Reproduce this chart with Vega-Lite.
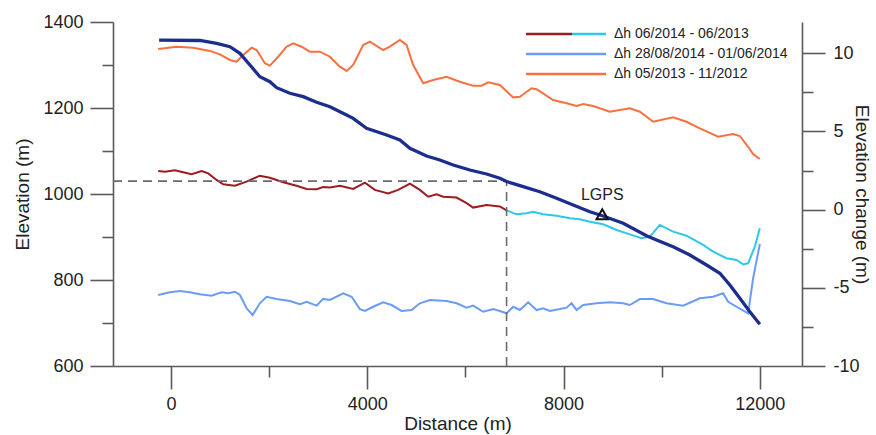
{
  "$schema": "https://vega.github.io/schema/vega-lite/v6.json",
  "width": 689,
  "height": 344,
  "autosize": {"type": "none"},
  "padding": {"left": 113, "top": 22, "right": 74, "bottom": 69},
  "background": "white",
  "datasets": {
    "dh": [
      {"s": "Δh 06/2014 - 06/2013", "d": -259, "v": 2.47},
      {"s": "Δh 06/2014 - 06/2013", "d": -122, "v": 2.43},
      {"s": "Δh 06/2014 - 06/2013", "d": 81, "v": 2.52},
      {"s": "Δh 06/2014 - 06/2013", "d": 251, "v": 2.39},
      {"s": "Δh 06/2014 - 06/2013", "d": 422, "v": 2.27},
      {"s": "Δh 06/2014 - 06/2013", "d": 626, "v": 2.47},
      {"s": "Δh 06/2014 - 06/2013", "d": 760, "v": 2.32},
      {"s": "Δh 06/2014 - 06/2013", "d": 931, "v": 1.9},
      {"s": "Δh 06/2014 - 06/2013", "d": 1066, "v": 1.62},
      {"s": "Δh 06/2014 - 06/2013", "d": 1304, "v": 1.53},
      {"s": "Δh 06/2014 - 06/2013", "d": 1542, "v": 1.79},
      {"s": "Δh 06/2014 - 06/2013", "d": 1813, "v": 2.17},
      {"s": "Δh 06/2014 - 06/2013", "d": 2017, "v": 2.04},
      {"s": "Δh 06/2014 - 06/2013", "d": 2288, "v": 1.75},
      {"s": "Δh 06/2014 - 06/2013", "d": 2561, "v": 1.53},
      {"s": "Δh 06/2014 - 06/2013", "d": 2765, "v": 1.32},
      {"s": "Δh 06/2014 - 06/2013", "d": 2969, "v": 1.3},
      {"s": "Δh 06/2014 - 06/2013", "d": 3103, "v": 1.45},
      {"s": "Δh 06/2014 - 06/2013", "d": 3240, "v": 1.42},
      {"s": "Δh 06/2014 - 06/2013", "d": 3443, "v": 1.53},
      {"s": "Δh 06/2014 - 06/2013", "d": 3714, "v": 1.32},
      {"s": "Δh 06/2014 - 06/2013", "d": 3953, "v": 1.72},
      {"s": "Δh 06/2014 - 06/2013", "d": 4156, "v": 1.26},
      {"s": "Δh 06/2014 - 06/2013", "d": 4427, "v": 1.04},
      {"s": "Δh 06/2014 - 06/2013", "d": 4631, "v": 1.26},
      {"s": "Δh 06/2014 - 06/2013", "d": 4870, "v": 1.66},
      {"s": "Δh 06/2014 - 06/2013", "d": 5073, "v": 1.26},
      {"s": "Δh 06/2014 - 06/2013", "d": 5243, "v": 0.83},
      {"s": "Δh 06/2014 - 06/2013", "d": 5414, "v": 0.98},
      {"s": "Δh 06/2014 - 06/2013", "d": 5548, "v": 0.83},
      {"s": "Δh 06/2014 - 06/2013", "d": 5821, "v": 0.77},
      {"s": "Δh 06/2014 - 06/2013", "d": 6025, "v": 0.41},
      {"s": "Δh 06/2014 - 06/2013", "d": 6159, "v": 0.13},
      {"s": "Δh 06/2014 - 06/2013", "d": 6432, "v": 0.3},
      {"s": "Δh 06/2014 - 06/2013", "d": 6703, "v": 0.2},
      {"s": "Δh 06/2014 - 06/2013", "d": 6840, "v": -0.05},
      {"s": "Δh 28/08/2014 - 01/06/2014", "d": -259, "v": -5.46},
      {"s": "Δh 28/08/2014 - 01/06/2014", "d": -20, "v": -5.29},
      {"s": "Δh 28/08/2014 - 01/06/2014", "d": 183, "v": -5.2},
      {"s": "Δh 28/08/2014 - 01/06/2014", "d": 387, "v": -5.29},
      {"s": "Δh 28/08/2014 - 01/06/2014", "d": 591, "v": -5.41},
      {"s": "Δh 28/08/2014 - 01/06/2014", "d": 829, "v": -5.5},
      {"s": "Δh 28/08/2014 - 01/06/2014", "d": 1033, "v": -5.29},
      {"s": "Δh 28/08/2014 - 01/06/2014", "d": 1167, "v": -5.35},
      {"s": "Δh 28/08/2014 - 01/06/2014", "d": 1304, "v": -5.25},
      {"s": "Δh 28/08/2014 - 01/06/2014", "d": 1406, "v": -5.46},
      {"s": "Δh 28/08/2014 - 01/06/2014", "d": 1542, "v": -6.31},
      {"s": "Δh 28/08/2014 - 01/06/2014", "d": 1665, "v": -6.74},
      {"s": "Δh 28/08/2014 - 01/06/2014", "d": 1813, "v": -5.99},
      {"s": "Δh 28/08/2014 - 01/06/2014", "d": 1950, "v": -5.57},
      {"s": "Δh 28/08/2014 - 01/06/2014", "d": 2154, "v": -5.71},
      {"s": "Δh 28/08/2014 - 01/06/2014", "d": 2425, "v": -5.84},
      {"s": "Δh 28/08/2014 - 01/06/2014", "d": 2628, "v": -6.05},
      {"s": "Δh 28/08/2014 - 01/06/2014", "d": 2765, "v": -5.89},
      {"s": "Δh 28/08/2014 - 01/06/2014", "d": 2969, "v": -6.14},
      {"s": "Δh 28/08/2014 - 01/06/2014", "d": 3103, "v": -5.71},
      {"s": "Δh 28/08/2014 - 01/06/2014", "d": 3240, "v": -5.78},
      {"s": "Δh 28/08/2014 - 01/06/2014", "d": 3511, "v": -5.35},
      {"s": "Δh 28/08/2014 - 01/06/2014", "d": 3682, "v": -5.57},
      {"s": "Δh 28/08/2014 - 01/06/2014", "d": 3851, "v": -6.36},
      {"s": "Δh 28/08/2014 - 01/06/2014", "d": 3953, "v": -6.48},
      {"s": "Δh 28/08/2014 - 01/06/2014", "d": 4122, "v": -6.21},
      {"s": "Δh 28/08/2014 - 01/06/2014", "d": 4326, "v": -5.93},
      {"s": "Δh 28/08/2014 - 01/06/2014", "d": 4497, "v": -6.1},
      {"s": "Δh 28/08/2014 - 01/06/2014", "d": 4700, "v": -6.48},
      {"s": "Δh 28/08/2014 - 01/06/2014", "d": 4904, "v": -6.42},
      {"s": "Δh 28/08/2014 - 01/06/2014", "d": 5073, "v": -5.99},
      {"s": "Δh 28/08/2014 - 01/06/2014", "d": 5277, "v": -5.78},
      {"s": "Δh 28/08/2014 - 01/06/2014", "d": 5617, "v": -5.84},
      {"s": "Δh 28/08/2014 - 01/06/2014", "d": 5821, "v": -5.99},
      {"s": "Δh 28/08/2014 - 01/06/2014", "d": 6025, "v": -6.27},
      {"s": "Δh 28/08/2014 - 01/06/2014", "d": 6159, "v": -6.14},
      {"s": "Δh 28/08/2014 - 01/06/2014", "d": 6363, "v": -6.53},
      {"s": "Δh 28/08/2014 - 01/06/2014", "d": 6567, "v": -6.36},
      {"s": "Δh 28/08/2014 - 01/06/2014", "d": 6703, "v": -6.48},
      {"s": "Δh 28/08/2014 - 01/06/2014", "d": 6840, "v": -6.63},
      {"s": "Δh 28/08/2014 - 01/06/2014", "d": 6974, "v": -6.21},
      {"s": "Δh 28/08/2014 - 01/06/2014", "d": 7111, "v": -6.42},
      {"s": "Δh 28/08/2014 - 01/06/2014", "d": 7280, "v": -5.93},
      {"s": "Δh 28/08/2014 - 01/06/2014", "d": 7451, "v": -6.42},
      {"s": "Δh 28/08/2014 - 01/06/2014", "d": 7586, "v": -6.31},
      {"s": "Δh 28/08/2014 - 01/06/2014", "d": 7722, "v": -6.48},
      {"s": "Δh 28/08/2014 - 01/06/2014", "d": 7926, "v": -6.36},
      {"s": "Δh 28/08/2014 - 01/06/2014", "d": 8062, "v": -6.27},
      {"s": "Δh 28/08/2014 - 01/06/2014", "d": 8164, "v": -5.99},
      {"s": "Δh 28/08/2014 - 01/06/2014", "d": 8266, "v": -6.42},
      {"s": "Δh 28/08/2014 - 01/06/2014", "d": 8401, "v": -6.1},
      {"s": "Δh 28/08/2014 - 01/06/2014", "d": 8673, "v": -5.99},
      {"s": "Δh 28/08/2014 - 01/06/2014", "d": 8944, "v": -5.93},
      {"s": "Δh 28/08/2014 - 01/06/2014", "d": 9216, "v": -5.99},
      {"s": "Δh 28/08/2014 - 01/06/2014", "d": 9352, "v": -6.1},
      {"s": "Δh 28/08/2014 - 01/06/2014", "d": 9556, "v": -5.72},
      {"s": "Δh 28/08/2014 - 01/06/2014", "d": 9827, "v": -5.72},
      {"s": "Δh 28/08/2014 - 01/06/2014", "d": 10100, "v": -5.99},
      {"s": "Δh 28/08/2014 - 01/06/2014", "d": 10438, "v": -6.14},
      {"s": "Δh 28/08/2014 - 01/06/2014", "d": 10778, "v": -5.67},
      {"s": "Δh 28/08/2014 - 01/06/2014", "d": 11049, "v": -5.57},
      {"s": "Δh 28/08/2014 - 01/06/2014", "d": 11253, "v": -5.35},
      {"s": "Δh 28/08/2014 - 01/06/2014", "d": 11355, "v": -5.89},
      {"s": "Δh 28/08/2014 - 01/06/2014", "d": 11526, "v": -6.21},
      {"s": "Δh 28/08/2014 - 01/06/2014", "d": 11762, "v": -6.63},
      {"s": "Δh 28/08/2014 - 01/06/2014", "d": 11864, "v": -4.39},
      {"s": "Δh 28/08/2014 - 01/06/2014", "d": 12001, "v": -2.2},
      {"s": "Δh 05/2013 - 11/2012", "d": -259, "v": 10.27},
      {"s": "Δh 05/2013 - 11/2012", "d": 116, "v": 10.42},
      {"s": "Δh 05/2013 - 11/2012", "d": 454, "v": 10.36},
      {"s": "Δh 05/2013 - 11/2012", "d": 795, "v": 10.15},
      {"s": "Δh 05/2013 - 11/2012", "d": 998, "v": 9.93},
      {"s": "Δh 05/2013 - 11/2012", "d": 1202, "v": 9.57},
      {"s": "Δh 05/2013 - 11/2012", "d": 1339, "v": 9.46},
      {"s": "Δh 05/2013 - 11/2012", "d": 1473, "v": 9.89},
      {"s": "Δh 05/2013 - 11/2012", "d": 1644, "v": 10.36},
      {"s": "Δh 05/2013 - 11/2012", "d": 1746, "v": 10.21},
      {"s": "Δh 05/2013 - 11/2012", "d": 1915, "v": 9.36},
      {"s": "Δh 05/2013 - 11/2012", "d": 2017, "v": 9.21},
      {"s": "Δh 05/2013 - 11/2012", "d": 2186, "v": 9.78},
      {"s": "Δh 05/2013 - 11/2012", "d": 2357, "v": 10.42},
      {"s": "Δh 05/2013 - 11/2012", "d": 2492, "v": 10.64},
      {"s": "Δh 05/2013 - 11/2012", "d": 2663, "v": 10.42},
      {"s": "Δh 05/2013 - 11/2012", "d": 2832, "v": 10.1},
      {"s": "Δh 05/2013 - 11/2012", "d": 3036, "v": 10.1},
      {"s": "Δh 05/2013 - 11/2012", "d": 3240, "v": 9.78},
      {"s": "Δh 05/2013 - 11/2012", "d": 3443, "v": 9.14},
      {"s": "Δh 05/2013 - 11/2012", "d": 3580, "v": 8.87},
      {"s": "Δh 05/2013 - 11/2012", "d": 3714, "v": 9.25},
      {"s": "Δh 05/2013 - 11/2012", "d": 3918, "v": 10.53},
      {"s": "Δh 05/2013 - 11/2012", "d": 4055, "v": 10.74},
      {"s": "Δh 05/2013 - 11/2012", "d": 4326, "v": 10.21},
      {"s": "Δh 05/2013 - 11/2012", "d": 4462, "v": 10.42},
      {"s": "Δh 05/2013 - 11/2012", "d": 4666, "v": 10.85},
      {"s": "Δh 05/2013 - 11/2012", "d": 4802, "v": 10.53},
      {"s": "Δh 05/2013 - 11/2012", "d": 4937, "v": 9.25},
      {"s": "Δh 05/2013 - 11/2012", "d": 5141, "v": 8.08},
      {"s": "Δh 05/2013 - 11/2012", "d": 5344, "v": 8.29},
      {"s": "Δh 05/2013 - 11/2012", "d": 5617, "v": 8.5},
      {"s": "Δh 05/2013 - 11/2012", "d": 5888, "v": 8.18},
      {"s": "Δh 05/2013 - 11/2012", "d": 6159, "v": 7.93},
      {"s": "Δh 05/2013 - 11/2012", "d": 6330, "v": 7.93},
      {"s": "Δh 05/2013 - 11/2012", "d": 6465, "v": 8.14},
      {"s": "Δh 05/2013 - 11/2012", "d": 6703, "v": 7.97},
      {"s": "Δh 05/2013 - 11/2012", "d": 6974, "v": 7.18},
      {"s": "Δh 05/2013 - 11/2012", "d": 7111, "v": 7.22},
      {"s": "Δh 05/2013 - 11/2012", "d": 7349, "v": 7.76},
      {"s": "Δh 05/2013 - 11/2012", "d": 7451, "v": 7.7},
      {"s": "Δh 05/2013 - 11/2012", "d": 7789, "v": 7.01},
      {"s": "Δh 05/2013 - 11/2012", "d": 8062, "v": 6.8},
      {"s": "Δh 05/2013 - 11/2012", "d": 8266, "v": 6.63},
      {"s": "Δh 05/2013 - 11/2012", "d": 8401, "v": 6.76},
      {"s": "Δh 05/2013 - 11/2012", "d": 8604, "v": 6.63},
      {"s": "Δh 05/2013 - 11/2012", "d": 8944, "v": 6.26},
      {"s": "Δh 05/2013 - 11/2012", "d": 9352, "v": 6.48},
      {"s": "Δh 05/2013 - 11/2012", "d": 9556, "v": 6.26},
      {"s": "Δh 05/2013 - 11/2012", "d": 9827, "v": 5.62},
      {"s": "Δh 05/2013 - 11/2012", "d": 10234, "v": 5.91},
      {"s": "Δh 05/2013 - 11/2012", "d": 10507, "v": 5.62},
      {"s": "Δh 05/2013 - 11/2012", "d": 10778, "v": 5.2},
      {"s": "Δh 05/2013 - 11/2012", "d": 11151, "v": 4.66},
      {"s": "Δh 05/2013 - 11/2012", "d": 11457, "v": 4.84},
      {"s": "Δh 05/2013 - 11/2012", "d": 11593, "v": 4.71},
      {"s": "Δh 05/2013 - 11/2012", "d": 11762, "v": 4.02},
      {"s": "Δh 05/2013 - 11/2012", "d": 11864, "v": 3.56},
      {"s": "Δh 05/2013 - 11/2012", "d": 12001, "v": 3.24}
    ],
    "dh_cyan": [
      {"d": 6840, "v": -0.05},
      {"d": 7044, "v": -0.3},
      {"d": 7247, "v": -0.23},
      {"d": 7382, "v": -0.13},
      {"d": 7586, "v": -0.3},
      {"d": 7859, "v": -0.39},
      {"d": 8130, "v": -0.55},
      {"d": 8333, "v": -0.62},
      {"d": 8537, "v": -0.77},
      {"d": 8808, "v": -0.94},
      {"d": 9081, "v": -1.3},
      {"d": 9352, "v": -1.58},
      {"d": 9590, "v": -1.83},
      {"d": 9760, "v": -1.73},
      {"d": 9963, "v": -0.98},
      {"d": 10234, "v": -1.41},
      {"d": 10507, "v": -1.67},
      {"d": 10845, "v": -2.26},
      {"d": 11049, "v": -2.69},
      {"d": 11322, "v": -3.11},
      {"d": 11526, "v": -3.22},
      {"d": 11660, "v": -3.5},
      {"d": 11762, "v": -3.43},
      {"d": 11899, "v": -2.37},
      {"d": 12001, "v": -1.19}
    ],
    "elev": [
      {"d": -240, "E": 1358},
      {"d": 591, "E": 1357},
      {"d": 931, "E": 1350.5},
      {"d": 1202, "E": 1342.6},
      {"d": 1406, "E": 1327.2},
      {"d": 1610, "E": 1300},
      {"d": 1813, "E": 1272.8},
      {"d": 2017, "E": 1261.2},
      {"d": 2154, "E": 1247.2},
      {"d": 2425, "E": 1234.2},
      {"d": 2696, "E": 1226.3},
      {"d": 2969, "E": 1213.3},
      {"d": 3240, "E": 1203},
      {"d": 3580, "E": 1183.7},
      {"d": 3714, "E": 1176},
      {"d": 3987, "E": 1152.8},
      {"d": 4395, "E": 1137.2},
      {"d": 4666, "E": 1125.6},
      {"d": 4870, "E": 1106.3},
      {"d": 5210, "E": 1088.4},
      {"d": 5481, "E": 1079.1},
      {"d": 5752, "E": 1067.4},
      {"d": 6092, "E": 1055.8},
      {"d": 6432, "E": 1046.5},
      {"d": 6703, "E": 1036.5},
      {"d": 6840, "E": 1029},
      {"d": 7178, "E": 1017},
      {"d": 7518, "E": 1005.3},
      {"d": 7859, "E": 990},
      {"d": 8197, "E": 974.4},
      {"d": 8537, "E": 958.8},
      {"d": 8808, "E": 948.8},
      {"d": 9216, "E": 931.9},
      {"d": 9692, "E": 903},
      {"d": 9896, "E": 893},
      {"d": 10234, "E": 877.4},
      {"d": 10575, "E": 858.1},
      {"d": 10915, "E": 834.9},
      {"d": 11186, "E": 815.6},
      {"d": 11390, "E": 788.4},
      {"d": 11594, "E": 757.4},
      {"d": 11797, "E": 726.3},
      {"d": 12001, "E": 697}
    ],
    "guides": [
      {"d": -1180, "d2": 6840, "E": 1030, "E2": 1030},
      {"d": 6840, "d2": 6840, "E": 600, "E2": 1030}
    ],
    "lgps": [
      {"d": 8790, "E": 953, "label": "LGPS"}
    ]
  },
  "layer": [
    {
      "layer": [
        {
          "data": {"name": "dh"},
          "mark": {"type": "line", "strokeWidth": 2},
          "encoding": {
            "x": {"field": "d", "type": "quantitative", "title": "Distance (m)",
                  "scale": {"domain": [-1180, 12860], "nice": false, "zero": false},
                  "axis": {"values": [0, 2000, 4000, 6000, 8000, 10000, 12000],
                           "labelExpr": "datum.value % 4000 === 0 ? '' + datum.value : ''",
                           "tickSize": {"condition": {"test": "datum.value % 4000 === 0", "value": 23}, "value": 11},
                           "labelPadding": 6, "titlePadding": 1}},
            "y": {"field": "v", "type": "quantitative", "title": "Elevation change (m)",
                  "scale": {"domain": [-10, 12], "nice": false, "zero": false},
                  "axis": {"orient": "right", "values": [-10, -7.5, -5, -2.5, 0, 2.5, 5, 7.5, 10],
                           "labelExpr": "datum.value % 5 === 0 ? '' + datum.value : ''",
                           "tickSize": {"condition": {"test": "datum.value % 5 === 0", "value": 23}, "value": 11},
                           "labelPadding": 8, "titlePadding": -8}},
            "color": {"field": "s", "type": "nominal",
                      "scale": {"domain": ["Δh 06/2014 - 06/2013", "Δh 28/08/2014 - 01/06/2014", "Δh 05/2013 - 11/2012"],
                                "range": ["#9e1b22", "#6a9cf7", "#f8703f"]},
                      "legend": {
                        "orient": "none", "legendX": 443, "legendY": 2, "title": null, "padding": 0,
                        "symbolType": "M-4,-0.13H4V0.13H-4Z", "symbolSize": 400,
                        "labelFontSize": 14, "labelColor": "#222", "labelOffset": 38, "rowPadding": 3, "labelLimit": 0,
                        "encode": {"symbols": {"update": {
                          "fill": [
                            {"test": "datum.value === 'Δh 06/2014 - 06/2013'",
                             "value": {"gradient": "linear", "x1": 0, "y1": 0, "x2": 1, "y2": 0,
                                       "stops": [{"offset": 0, "color": "#9e1b22"}, {"offset": 0.57, "color": "#9e1b22"},
                                                 {"offset": 0.57, "color": "#2ec8ea"}, {"offset": 1, "color": "#2ec8ea"}]}},
                            {"scale": "color", "field": "value"}
                          ],
                          "stroke": {"value": "transparent"},
                          "strokeWidth": {"value": 0}
                        }}}
                      }}
          }
        },
        {
          "data": {"name": "dh_cyan"},
          "mark": {"type": "line", "strokeWidth": 2, "color": "#2ec8ea"},
          "encoding": {
            "x": {"field": "d", "type": "quantitative", "title": "Distance (m)"},
            "y": {"field": "v", "type": "quantitative", "title": "Elevation change (m)"}
          }
        }
      ]
    },
    {
      "layer": [
        {
          "data": {"name": "guides"},
          "mark": {"type": "rule", "strokeDash": [9, 6], "color": "#6a6a6a", "strokeWidth": 1.6},
          "encoding": {
            "x": {"field": "d", "type": "quantitative", "title": "Distance (m)"},
            "x2": {"field": "d2"},
            "y": {"field": "E", "type": "quantitative", "title": "Elevation (m)",
                  "scale": {"domain": [600, 1400], "nice": false, "zero": false},
                  "axis": {"orient": "left", "values": [600, 700, 800, 900, 1000, 1100, 1200, 1300, 1400],
                           "labelExpr": "datum.value % 200 === 0 ? '' + datum.value : ''",
                           "tickSize": {"condition": {"test": "datum.value % 200 === 0", "value": 23}, "value": 11},
                           "labelPadding": 7, "titlePadding": 10}},
            "y2": {"field": "E2"}
          }
        },
        {
          "data": {"name": "elev"},
          "mark": {"type": "line", "strokeWidth": 3.3, "color": "#1b2d8d"},
          "encoding": {
            "x": {"field": "d", "type": "quantitative", "title": "Distance (m)"},
            "y": {"field": "E", "type": "quantitative", "title": "Elevation (m)"}
          }
        },
        {
          "data": {"name": "lgps"},
          "mark": {"type": "point", "shape": "triangle-up", "size": 130, "filled": false, "color": "#111", "strokeWidth": 2, "opacity": 1},
          "encoding": {
            "x": {"field": "d", "type": "quantitative", "title": "Distance (m)"},
            "y": {"field": "E", "type": "quantitative", "title": "Elevation (m)"}
          }
        },
        {
          "data": {"name": "lgps"},
          "mark": {"type": "text", "baseline": "alphabetic", "dy": -14, "fontSize": 16, "color": "#222"},
          "encoding": {
            "x": {"field": "d", "type": "quantitative", "title": "Distance (m)"},
            "y": {"field": "E", "type": "quantitative", "title": "Elevation (m)"},
            "text": {"field": "label"}
          }
        }
      ]
    }
  ],
  "resolve": {"scale": {"y": "independent"}},
  "config": {
    "font": "Liberation Sans",
    "view": {"stroke": null},
    "axis": {
      "grid": false,
      "domainColor": "#5a5a5a", "domainWidth": 1.6,
      "tickColor": "#5a5a5a", "tickWidth": 1.6,
      "labelFontSize": 18, "labelColor": "#222",
      "titleFontSize": 19, "titleFontWeight": "normal", "titleColor": "#222",
      "labelFlush": false, "labelOverlap": false
    }
  }
}
